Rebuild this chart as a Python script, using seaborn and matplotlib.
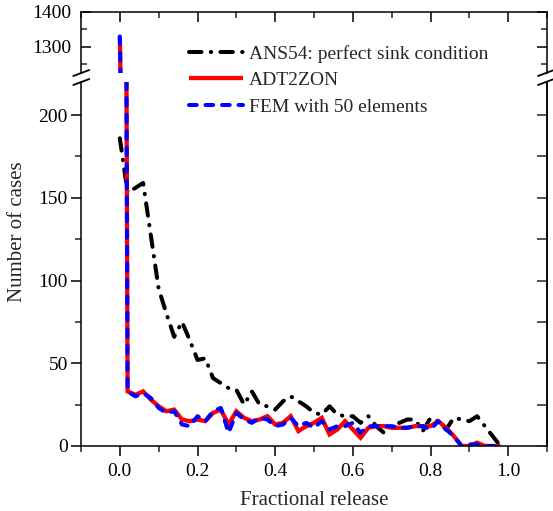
import matplotlib
matplotlib.use("Agg")
import matplotlib.pyplot as plt
import numpy as np
import pandas as pd
import seaborn as sns
from matplotlib.lines import Line2D
from matplotlib.ticker import MultipleLocator, FormatStrFormatter

# ---------------- data ----------------
fractional_release = [0.00, 0.02, 0.04, 0.06, 0.08, 0.10, 0.12, 0.14, 0.16, 0.18,
                      0.20, 0.22, 0.24, 0.26, 0.28, 0.30, 0.32, 0.34, 0.36, 0.38,
                      0.40, 0.42, 0.44, 0.46, 0.48, 0.50, 0.52, 0.54, 0.56, 0.58,
                      0.60, 0.62, 0.64, 0.66, 0.68, 0.70, 0.72, 0.74, 0.76, 0.78,
                      0.80, 0.82, 0.84, 0.86, 0.88, 0.90, 0.92, 0.94, 0.96, 0.98]

ans54_cases = [186, 153, 156, 159, 127, 95, 80, 66, 75, 64,
               52, 53, 41, 38, 35, 34, 25, 33, 25, 24,
               22, 27, 30, 27, 24, 20, 19, 24, 19, 18,
               18, 14, 18, 12, 8, 12, 14, 16, 16, 9,
               17, 15, 10, 17, 16, 15, 18, 12, 6, 0]

adt2zon_cases = [1330, 33, 31, 33, 28, 24, 21, 22, 16, 15,
                 16, 15, 20, 22, 13, 21, 17, 15, 16, 18,
                 13, 14, 18, 9, 12, 14, 17, 7, 10, 15,
                 10, 5, 11, 12, 12, 11, 11, 11, 12, 12,
                 12, 15, 11, 6, 0, 0, 2, 0, 0, 0]

fem50_cases = [1330, 33, 30, 32, 29, 23, 20, 21, 13, 12,
               18, 15, 21, 23, 8, 20, 16, 14, 17, 16,
               12, 13, 17, 12, 14, 11, 15, 10, 12, 12,
               14, 8, 12, 12, 12, 12, 11, 11, 12, 12,
               10, 15, 10, 6, 0, 1, 1, 0, 0, 0]

series_names = ["ANS54: perfect sink condition", "ADT2ZON", "FEM with 50 elements"]
series_colors = ["black", "#ff0000", "#0000ff"]

df = pd.concat([
    pd.DataFrame({"x": fractional_release, "y": ans54_cases, "series": series_names[0]}),
    pd.DataFrame({"x": fractional_release, "y": adt2zon_cases, "series": series_names[1]}),
    pd.DataFrame({"x": fractional_release, "y": fem50_cases, "series": series_names[2]}),
], ignore_index=True)

# ---------------- style ----------------
sns.set_style("ticks")
plt.rcParams['font.family'] = ['Liberation Serif', 'DejaVu Serif']
plt.rcParams['axes.linewidth'] = 1.1
plt.rcParams['axes.edgecolor'] = 'black'

W, H = 553, 511
fig = plt.figure(figsize=(W / 100, H / 100), dpi=100)

def fx(px):
    return px / W

def fy(py):
    return 1 - py / H

ax_bot = fig.add_axes([fx(81), fy(446), fx(547) - fx(81), fy(82) - fy(446)])
ax_top = fig.add_axes([fx(81), fy(73), fx(547) - fx(81), fy(12) - fy(73)])

palette = dict(zip(series_names, series_colors))
dashes = {series_names[0]: (3.1, 2.3, 0.1, 2.3),
          series_names[1]: "",
          series_names[2]: (1.9, 2.2)}
widths = {series_names[0]: 2.9, series_names[1]: 3.1, series_names[2]: 2.9}

for ax in (ax_top, ax_bot):
    for name in series_names:
        sub = df[df["series"] == name]
        sns.lineplot(data=sub, x="x", y="y", ax=ax, color=palette[name],
                     linewidth=widths[name], errorbar=None, legend=False,
                     dashes=False, sort=True)
        line = ax.lines[-1]
        if dashes[name]:
            line.set_dashes(dashes[name])
        line.set_label(name)
        line.set_solid_capstyle('butt')
        line.set_dash_capstyle('round')
        line.set_solid_joinstyle('miter')

# ---------------- bottom panel ----------------
ax_bot.set_xlim(-0.1, 1.1)
ax_bot.set_ylim(0, 220)
ax_bot.spines['top'].set_visible(False)
ax_bot.xaxis.set_major_locator(MultipleLocator(0.2))
ax_bot.xaxis.set_minor_locator(MultipleLocator(0.1))
ax_bot.xaxis.set_major_formatter(FormatStrFormatter('%.1f'))
ax_bot.yaxis.set_major_locator(MultipleLocator(50))
ax_bot.yaxis.set_minor_locator(MultipleLocator(25))
ax_bot.tick_params(axis='both', which='major', direction='out', length=7, width=1.1,
                   labelsize=14, colors='black', pad=2.5)
ax_bot.tick_params(axis='both', which='minor', direction='out', length=4, width=1.1)
ax_bot.tick_params(axis='x', top=False, pad=5)
ax_bot.tick_params(axis='y', right=False)
ax_bot.set_xlabel("Fractional release", fontsize=15, labelpad=8)
ax_bot.set_ylabel("")

tw = ax_bot.twinx()
tw.set_ylim(0, 220)
tw.yaxis.set_major_locator(MultipleLocator(25))
tw.tick_params(axis='y', which='major', direction='in', length=7, width=1.1,
               labelright=False)
for s in ('top', 'left', 'bottom'):
    tw.spines[s].set_visible(False)

# ---------------- top panel ----------------
ax_top.set_xlim(-0.1, 1.1)
ax_top.set_ylim(1225, 1400)
ax_top.spines['bottom'].set_visible(False)
ax_top.xaxis.set_major_locator(MultipleLocator(0.2))
ax_top.xaxis.set_minor_locator(MultipleLocator(0.1))
ax_top.yaxis.set_major_locator(MultipleLocator(100))
ax_top.yaxis.set_minor_locator(MultipleLocator(50))
ax_top.tick_params(axis='both', which='major', direction='in', length=7, width=1.1,
                   labelsize=14, colors='black')
ax_top.tick_params(axis='both', which='minor', direction='in', length=4, width=1.1)
ax_top.tick_params(axis='x', which='both', top=True, bottom=False, labelbottom=False)
ax_top.tick_params(axis='y', which='both', left=True, right=True, pad=7)
ax_top.set_xlabel("")
ax_top.set_ylabel("")

# ---------------- break marks ----------------
for cx in (81.3, 546):
    for cy in (73, 82):
        fig.add_artist(Line2D([fx(cx - 8), fx(cx + 8)], [fy(cy + 3), fy(cy - 3)],
                              color='black', lw=1.3, transform=fig.transFigure))

# ---------------- labels & legend ----------------
fig.text(fx(18), fy(232), "Number of cases", rotation=90, ha='center', va='center',
         fontsize=15)

handles = ax_bot.lines[:3]
leg = fig.legend(handles=handles, labels=series_names, loc='upper left',
                 bbox_to_anchor=(fx(189), fy(45)), bbox_transform=fig.transFigure,
                 frameon=False, fontsize=14, handlelength=2.8, handletextpad=0.3,
                 labelspacing=0.45, borderpad=0, borderaxespad=0)

fig.savefig("out.png", dpi=100)
